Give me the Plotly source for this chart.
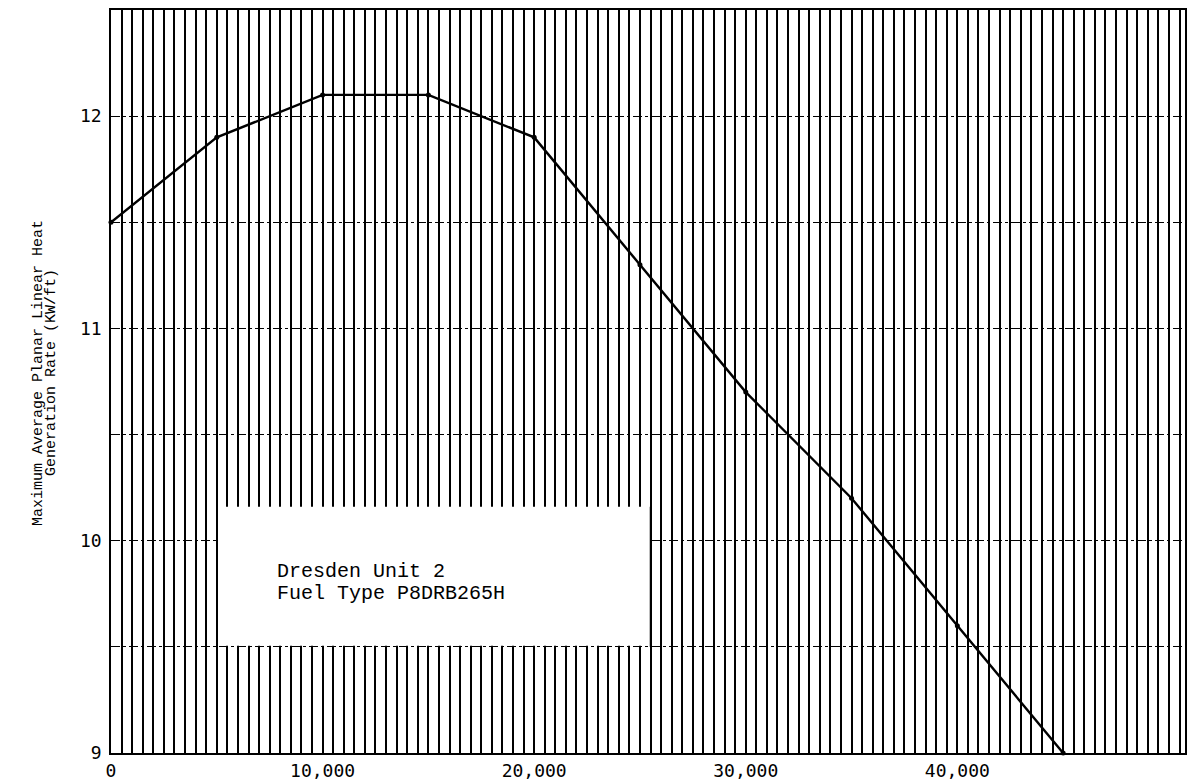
import plotly.graph_objects as go

# Exposure (MWd/ST) and MAPLHGR limit (kW/ft)
exposure = [0, 5000, 10000, 15000, 20000, 25000, 30000, 35000, 40000, 45000]
maplhgr = [11.5, 11.9, 12.1, 12.1, 11.9, 11.3, 10.7, 10.2, 9.6, 9.0]

x_tick_vals = [0, 10000, 20000, 30000, 40000]
x_tick_text = ["0", "10,000", "20,000", "30,000", "40,000"]
y_tick_vals = [9, 10, 11, 12]
y_tick_text = ["9", "10", "11", "12"]

title_lines = ["Maximum Average Planar Linear Heat", "Generation Rate (KW/ft)"]
note_lines = ["Dresden Unit 2", "Fuel Type P8DRB265H"]

mono = "Liberation Mono"
tick_font = dict(family="DejaVu Sans Mono", size=18, color="black")

fig = go.Figure()
fig.add_trace(go.Scatter(
    x=exposure, y=maplhgr, mode="lines+markers",
    line=dict(color="black", width=2.4),
    marker=dict(color="black", size=5),
    showlegend=False, cliponaxis=False,
))

fig.update_xaxes(
    range=[0, 50760], showline=True, linecolor="black", linewidth=1.5, mirror=True,
    tickmode="array", tickvals=x_tick_vals, ticktext=x_tick_text, ticks="",
    tickfont=tick_font, ticklabelstandoff=1, automargin=False,
    showgrid=True, gridcolor="black", gridwidth=1.6,
    minor=dict(dtick=500, tick0=0, showgrid=True, gridcolor="black", gridwidth=1.6),
    zeroline=False,
)
fig.update_yaxes(
    range=[9, 12.5], showline=True, linecolor="black", linewidth=1.5, mirror=True,
    tickmode="array", tickvals=y_tick_vals, ticktext=y_tick_text, ticks="",
    tickfont=tick_font, ticklabelstandoff=4, automargin=False,
    showgrid=True, gridcolor="black", gridwidth=1.4, griddash="dashdot",
    minor=dict(dtick=0.5, tick0=9, showgrid=True, gridcolor="black", gridwidth=1.4,
               griddash="dashdot"),
    zeroline=False,
)

# White label panel pasted over the grid
fig.add_shape(type="rect", xref="x", yref="y", x0=5060, x1=25440, y0=9.505, y1=10.16,
              fillcolor="white", line=dict(width=0), layer="above")
fig.add_shape(type="line", xref="x", yref="y", x0=5000, x1=5000, y0=9.5, y1=10.16,
              line=dict(color="black", width=1.6), layer="above")
fig.add_shape(type="line", xref="x", yref="y", x0=25500, x1=25500, y0=9.5, y1=10.16,
              line=dict(color="black", width=1.6), layer="above")

for i, txt in enumerate(note_lines):
    fig.add_annotation(x=7750, y=9.855 - i * 0.104, xref="x", yref="y", text=txt,
                       showarrow=False, xanchor="left", yanchor="middle",
                       font=dict(family=mono, size=20, color="black"))

fig.update_layout(
    width=1195, height=783,
    margin=dict(l=111, r=10, t=10, b=30),
    paper_bgcolor="white", plot_bgcolor="white",
)

# Two-line rotated axis title, placed by pixel position relative to the plot area
plot_w = 1195 - 111 - 10
plot_h = 783 - 10 - 30
for i, txt in enumerate(title_lines):
    px, py = 38 + i * 13, 373
    fig.add_annotation(x=(px - 111) / plot_w, y=1 - (py - 10) / plot_h,
                       xref="paper", yref="paper", text=txt,
                       showarrow=False, textangle=-90, xanchor="center", yanchor="middle",
                       font=dict(family=mono, size=15, color="black"))

fig.write_html("out.html")
